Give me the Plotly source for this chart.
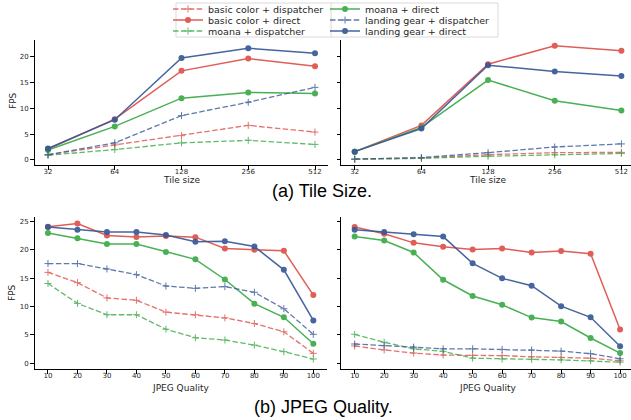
import plotly.graph_objects as go

W, H = 631, 420

# ---------------- data ----------------
tile_sizes = ['32', '64', '128', '256', '512']
jpeg_quality = [10, 20, 30, 40, 50, 60, 70, 80, 90, 100]

series_names = ['basic color + dispatcher', 'basic color + direct',
                'moana + dispatcher', 'moana + direct',
                'landing gear + dispatcher', 'landing gear + direct']

# (a) Tile size, left panel
tl_bc_disp = [1.0, 2.9, 4.7, 6.7, 5.4]
tl_bc_dir = [2.1, 7.9, 17.3, 19.7, 18.2]
tl_mo_disp = [0.9, 2.0, 3.3, 3.8, 3.0]
tl_mo_dir = [1.9, 6.5, 12.0, 13.1, 12.9]
tl_lg_disp = [1.0, 3.3, 8.6, 11.2, 14.1]
tl_lg_dir = [2.2, 7.8, 19.8, 21.7, 20.7]

# (a) Tile size, right panel
tr_bc_disp = [0.15, 0.35, 1.0, 1.4, 1.45]
tr_bc_dir = [1.6, 6.7, 18.6, 22.2, 21.2]
tr_mo_disp = [0.1, 0.3, 0.7, 1.0, 1.25]
tr_mo_dir = [1.6, 6.3, 15.5, 11.5, 9.6]
tr_lg_disp = [0.15, 0.45, 1.4, 2.5, 3.1]
tr_lg_dir = [1.6, 6.1, 18.4, 17.2, 16.3]

# (b) JPEG quality, left panel
jl_bc_disp = [16.0, 14.2, 11.5, 11.1, 9.0, 8.55, 8.0, 7.0, 5.55, 1.75]
jl_bc_dir = [24.05, 24.6, 22.5, 22.25, 22.4, 22.2, 20.2, 20.0, 19.8, 12.0]
jl_mo_disp = [14.05, 10.55, 8.55, 8.55, 6.0, 4.5, 4.1, 3.2, 2.05, 0.75]
jl_mo_dir = [22.95, 22.0, 21.0, 21.0, 19.6, 18.3, 14.75, 10.5, 8.1, 3.45]
jl_lg_disp = [17.55, 17.55, 16.6, 15.6, 13.6, 13.2, 13.5, 12.5, 9.6, 5.1]
jl_lg_dir = [24.0, 23.5, 23.1, 23.1, 22.6, 21.4, 21.5, 20.55, 16.45, 7.55]

# (b) JPEG quality, right panel
jr_bc_disp = [3.05, 2.35, 1.8, 1.45, 1.4, 1.35, 1.15, 1.05, 0.9, 0.45]
jr_bc_dir = [24.0, 22.8, 21.2, 20.5, 20.05, 20.2, 19.5, 19.75, 19.3, 5.95]
jr_mo_disp = [5.1, 3.7, 2.55, 2.1, 0.9, 0.75, 0.7, 0.6, 0.45, 0.2]
jr_mo_dir = [22.3, 21.6, 19.5, 14.7, 11.85, 10.3, 8.05, 7.35, 4.45, 1.8]
jr_lg_disp = [3.4, 3.1, 2.85, 2.55, 2.55, 2.45, 2.35, 2.15, 1.7, 0.8]
jr_lg_dir = [23.5, 23.1, 22.7, 22.3, 17.6, 14.95, 13.65, 10.05, 8.1, 3.0]

# ---------------- styles ----------------
RED, GREEN, BLUE = '#de504a', '#3aaa46', '#375896'
colors = [RED, RED, GREEN, GREEN, BLUE, BLUE]
is_disp = [True, False, True, False, True, False]
legend_ids = ['legend', 'legend2', 'legend3', 'legend4', 'legend5', 'legend6']
# legend layout: (left px, row-centre px)
legend_pos = [(168, 9), (168, 20), (168, 31), (325, 9), (325, 20), (325, 31)]

panels = [
    ('x', 'y', tile_sizes, [tl_bc_disp, tl_bc_dir, tl_mo_disp, tl_mo_dir, tl_lg_disp, tl_lg_dir], True),
    ('x2', 'y2', tile_sizes, [tr_bc_disp, tr_bc_dir, tr_mo_disp, tr_mo_dir, tr_lg_disp, tr_lg_dir], False),
    ('x3', 'y3', jpeg_quality, [jl_bc_disp, jl_bc_dir, jl_mo_disp, jl_mo_dir, jl_lg_disp, jl_lg_dir], False),
    ('x4', 'y4', jpeg_quality, [jr_bc_disp, jr_bc_dir, jr_mo_disp, jr_mo_dir, jr_lg_disp, jr_lg_dir], False),
]

fig = go.Figure()
for xa, ya, xs, ys_list, show in panels:
    for i, ys in enumerate(ys_list):
        if is_disp[i]:
            line = dict(color=colors[i], width=1.3, dash='5.5px,2.4px')
            marker = dict(symbol='cross-thin', size=5, line=dict(color=colors[i], width=1.0), color=colors[i])
            op = 0.8
        else:
            line = dict(color=colors[i], width=1.5)
            marker = dict(symbol='circle', size=6, color=colors[i], line=dict(width=0))
            op = 0.92
        fig.add_trace(go.Scatter(
            x=xs, y=ys, mode='lines+markers', name=series_names[i],
            line=line, marker=marker, opacity=op,
            xaxis=xa, yaxis=ya, showlegend=show, legend=legend_ids[i],
            cliponaxis=False,
        ))

tickfont = dict(family='DejaVu Sans', size=7, color='#262626')
base = dict(showline=True, linecolor='black', linewidth=1.25, ticks='outside',
            ticklen=3.5, tickwidth=0.8, tickcolor='black', showgrid=False,
            zeroline=False, tickfont=tickfont, fixedrange=True, automargin=False)

def px_x(p):
    return p / W

def px_y(p):
    return 1 - p / H

top_dom = [px_y(165), px_y(40)]
bot_dom = [px_y(369.1), px_y(216.6)]
left_top = [px_x(34.65), px_x(328.35)]
left_bot = [px_x(34.7), px_x(326.6)]
right_dom = [px_x(341.4), 1.0]

fig.update_layout(
    width=W, height=H,
    margin=dict(l=0, r=0, t=0, b=0, autoexpand=False),
    paper_bgcolor='white', plot_bgcolor='white',
    xaxis=dict(base, domain=left_top, anchor='y', type='category',
               categoryorder='array', categoryarray=tile_sizes, range=[-0.2, 4.2]),
    xaxis2=dict(base, domain=right_dom, anchor='y2', type='category',
                categoryorder='array', categoryarray=tile_sizes, range=[-0.2, 4.144]),
    xaxis3=dict(base, domain=left_bot, anchor='y3', tickvals=jpeg_quality, range=[5.5, 104.5]),
    xaxis4=dict(base, domain=right_dom, anchor='y4', tickvals=jpeg_quality, range=[5.5, 103.7]),
    yaxis=dict(base, domain=top_dom, anchor='x', range=[-1.0, 23.3], tickvals=[0, 5, 10, 15, 20]),
    yaxis2=dict(base, domain=top_dom, anchor='x2', range=[-1.0, 23.3], tickvals=[0, 5, 10, 15, 20],
                showticklabels=False),
    yaxis3=dict(base, domain=bot_dom, anchor='x3', range=[-1.02, 25.82], tickvals=[0, 5, 10, 15, 20, 25]),
    yaxis4=dict(base, domain=bot_dom, anchor='x4', range=[-1.02, 25.82], tickvals=[0, 5, 10, 15, 20, 25],
                showticklabels=False),
)
# pull the x tick labels closer to the axis, as in the reference
try:
    fig.update_xaxes(ticklabelstandoff=-4)
except Exception:
    pass

legfont = dict(family='DejaVu Sans', size=9.5, color='#262626')
leg_common = dict(orientation='v', xanchor='left', yanchor='middle', bgcolor='rgba(0,0,0,0)',
                  borderwidth=0, font=legfont, itemwidth=30, tracegroupgap=0,
                  itemclick=False, itemdoubleclick=False)
fig.update_layout(**{lid: dict(leg_common, x=px_x(lx), y=px_y(ly))
                     for lid, (lx, ly) in zip(legend_ids, legend_pos)})

# legend frame
fig.add_shape(type='rect', xref='paper', yref='paper', x0=px_x(176), x1=px_x(498),
              y0=px_y(37), y1=px_y(3), line=dict(color='#d0d0d0', width=0.8), layer='below')
fig.add_shape(type='line', xref='paper', yref='paper', x0=px_x(331), x1=px_x(331),
              y0=px_y(37), y1=px_y(3), line=dict(color='#d0d0d0', width=0.8), layer='below')

# axis titles and captions
labfont = dict(family='DejaVu Sans', size=9, color='#262626')
capfont = dict(family='Liberation Sans, Arial', size=18, color='black')
ann = [
    dict(text='Tile size', x=px_x(181.5), y=px_y(180), font=labfont),
    dict(text='Tile size', x=px_x(488), y=px_y(180), font=labfont),
    dict(text='JPEG Quality', x=px_x(180.5), y=px_y(387.5), font=labfont),
    dict(text='JPEG Quality', x=px_x(487.5), y=px_y(387.5), font=labfont),
    dict(text='FPS', x=px_x(13), y=px_y(101), font=labfont, textangle=-90),
    dict(text='FPS', x=px_x(12), y=px_y(293), font=labfont, textangle=-90),
    dict(text='(a) Tile Size.', x=px_x(322), y=px_y(191.5), font=capfont),
    dict(text='(b) JPEG Quality.', x=px_x(323.5), y=px_y(406.5), font=capfont),
]
for a in ann:
    fig.add_annotation(xref='paper', yref='paper', xanchor='center', yanchor='middle',
                       showarrow=False, **a)

fig.write_html('out.html', config={'displayModeBar': False},
               post_script="document.body.style.margin='0';")
